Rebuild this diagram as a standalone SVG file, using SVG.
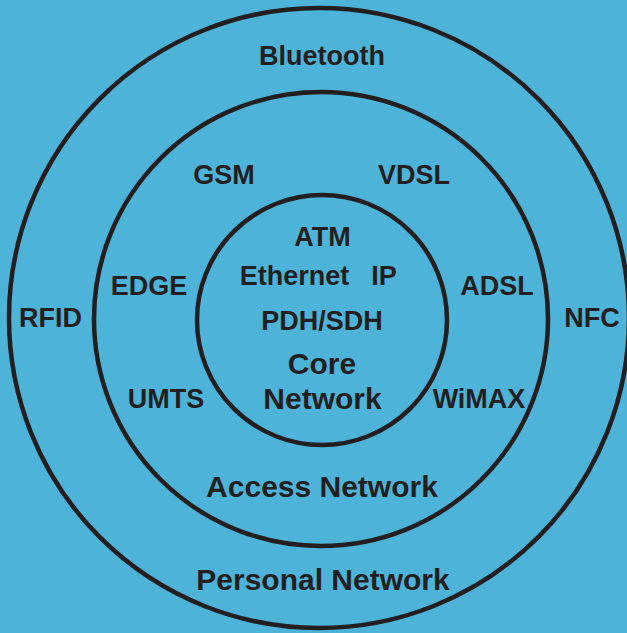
<svg xmlns="http://www.w3.org/2000/svg" width="627" height="633" viewBox="0 0 627 633">
<style>
.ring{fill:none;stroke:#231F20;stroke-width:4.5}
.t{font-family:"Liberation Sans",Arial,sans-serif;font-weight:bold;fill:#231F20;text-anchor:middle;font-size:27px}
.h{font-size:30px}
</style>
<rect width="627" height="633" fill="#4DB3D9"/>
<g id="personal">
<circle class="ring" cx="319" cy="318" r="310"/>
<text class="t" x="322" y="65">Bluetooth</text>
<text class="t" x="50.5" y="327">RFID</text>
<text class="t" x="592" y="327">NFC</text>
<text class="t h" x="323" y="590">Personal Network</text>
</g>
<g id="access">
<circle class="ring" cx="321" cy="319" r="227"/>
<text class="t" x="224" y="184">GSM</text>
<text class="t" x="414" y="184">VDSL</text>
<text class="t" x="149" y="295">EDGE</text>
<text class="t" x="497" y="295">ADSL</text>
<text class="t" x="166" y="408">UMTS</text>
<text class="t" x="479" y="408">WiMAX</text>
<text class="t h" x="322" y="497">Access Network</text>
</g>
<g id="core">
<circle class="ring" cx="322" cy="320" r="125"/>
<text class="t" x="322.5" y="246">ATM</text>
<text class="t" x="294.5" y="285">Ethernet</text>
<text class="t" x="384" y="285">IP</text>
<text class="t" x="322" y="330">PDH/SDH</text>
<text class="t h" x="322" y="374">Core</text>
<text class="t h" x="322.5" y="409">Network</text>
</g>
<g id="connectors"/>
</svg>
